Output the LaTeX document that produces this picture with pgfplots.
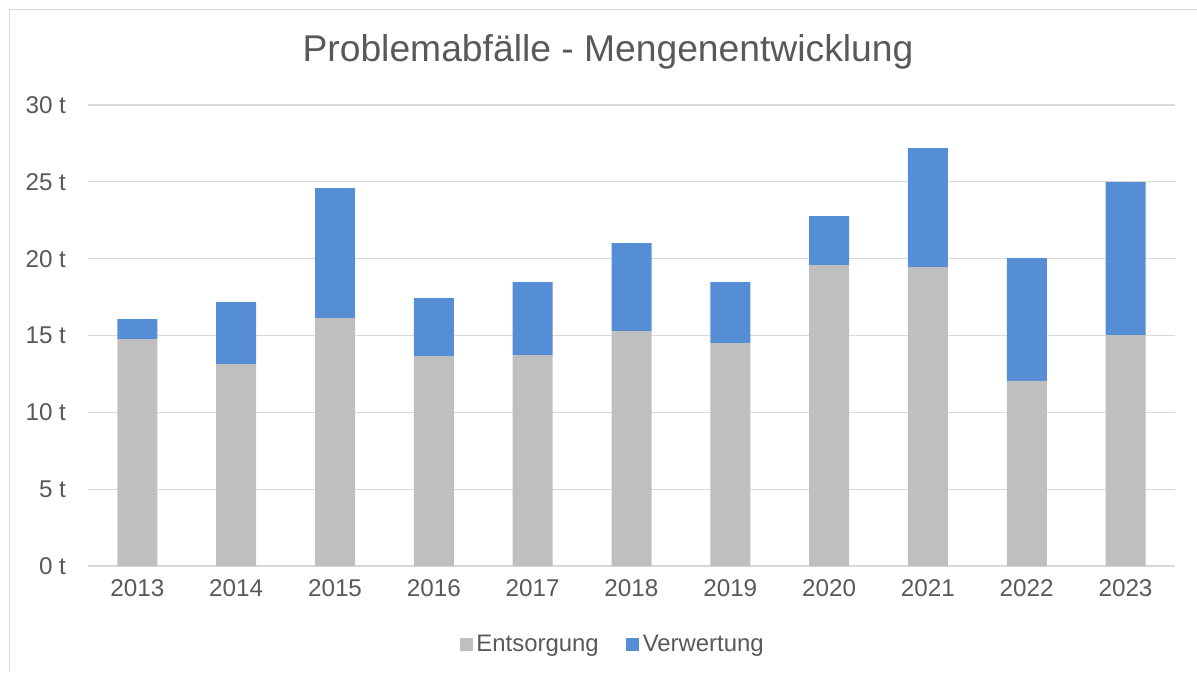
\documentclass[border=0pt]{standalone}
\usepackage{pgfplots}
\pgfplotsset{compat=1.18}
\usepackage{fontspec}
\setmainfont{Liberation Sans}
\definecolor{entsorg}{HTML}{BFBFBF}
\definecolor{verwert}{HTML}{558ED5}
\definecolor{txt}{HTML}{595959}
\definecolor{gridc}{HTML}{D9D9D9}
\begin{document}
\begin{tikzpicture}[x=1cm,y=1cm]
\useasboundingbox (0,0) rectangle (23.94,13.44);
\draw[color=gridc, line width=0.03cm] (0.19,0) -- (0.19,13.25) -- (23.94,13.25);
\node[text=txt, font=\fontsize{21.2pt}{24pt}\selectfont] at (12.16,12.40) {Problemabfälle - Mengenentwicklung};
\begin{axis}[
  at={(1.76cm,2.12cm)}, anchor=origin,
  scale only axis, width=21.74cm, height=9.22cm,
  ybar stacked, bar width=0.8cm,
  xmin=2012.5, xmax=2023.5, ymin=0, ymax=30,
  ytick={0,5,...,30},
  xtick={2013,...,2023},
  xticklabel style={/pgf/number format/1000 sep={}},
  /pgf/number format/assume math mode=true,
  yticklabel={\pgfmathprintnumber{\tick}~t},
  ymajorgrids, grid style={gridc, line width=0.6pt},
  axis x line*=bottom, axis y line*=left,
  y axis line style={draw=none},
  x axis line style={gridc, line width=0.6pt},
  major tick length=0pt,
  tick label style={text=txt, font=\fontsize{13.8pt}{16pt}\selectfont},
  xticklabel style={yshift=-4pt},
  yticklabel style={xshift=-9pt},
  legend style={at={(0.4835,-0.171)}, anchor=center, draw=none, legend columns=2,
    font=\fontsize{13.6pt}{16pt}\selectfont, text=txt,
    /tikz/every even column/.append style={column sep=13.7pt}},
  legend image code/.code={\fill[#1] (0.0cm,-0.13cm) rectangle (0.26cm,0.13cm);},
  clip=false,
]
\addplot[fill=entsorg, draw=none] coordinates {
(2013,14.77) (2014,13.14) (2015,16.13) (2016,13.66) (2017,13.73) (2018,15.29)
(2019,14.51) (2020,19.58) (2021,19.45) (2022,12.04) (2023,15.03)};
\addlegendentry{Entsorgung}
\addplot[fill=verwert, draw=none] coordinates {
(2013,1.30) (2014,4.04) (2015,8.46) (2016,3.78) (2017,4.75) (2018,5.73)
(2019,3.97) (2020,3.19) (2021,7.75) (2022,8.00) (2023,9.95)};
\addlegendentry{Verwertung}
\end{axis}
\end{tikzpicture}
\end{document}
